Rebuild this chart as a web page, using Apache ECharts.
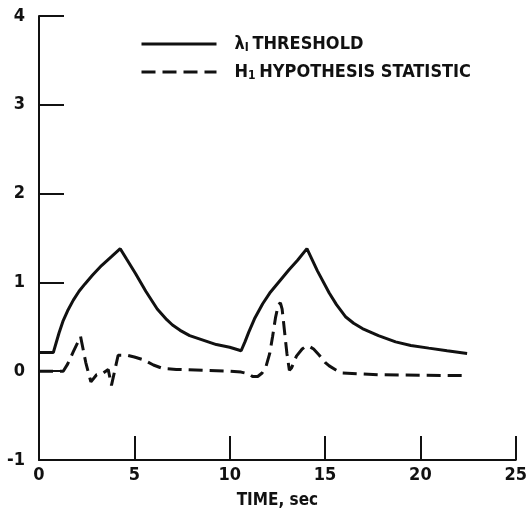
<!DOCTYPE html>
<html>
<head>
<meta charset="utf-8">
<script src="https://cdn.jsdelivr.net/npm/echarts@6/dist/echarts.min.js"></script>
<style>
  html, body { margin: 0; padding: 0; background: #fff; }
  #chart { width: 530px; height: 515px; }
</style>
</head>
<body>
<div id="chart"></div>
<script>
// time (sec), value pairs
const thresholdData = [
  [0, 0.21], [0.75, 0.21], [0.9, 0.32], [1.05, 0.43], [1.27, 0.57], [1.5, 0.68],
  [1.8, 0.80], [2.1, 0.90], [2.4, 0.98], [2.8, 1.08], [3.28, 1.19], [3.8, 1.29],
  [4.26, 1.38], [4.6, 1.26], [5.06, 1.10], [5.6, 0.90], [6.2, 0.70], [6.7, 0.58],
  [7.0, 0.52], [7.4, 0.46], [7.9, 0.40], [8.6, 0.35], [9.3, 0.30], [10.0, 0.27],
  [10.6, 0.23], [10.8, 0.33], [11.0, 0.44], [11.3, 0.59], [11.73, 0.76],
  [12.1, 0.88], [12.6, 1.01], [13.1, 1.14], [13.56, 1.25], [14.05, 1.38],
  [14.6, 1.13], [15.22, 0.88], [15.6, 0.75], [16.09, 0.61], [16.5, 0.54],
  [16.96, 0.48], [17.8, 0.40], [18.7, 0.33], [19.5, 0.29], [20.44, 0.26],
  [21.4, 0.23], [22.45, 0.20]
]
const statisticData = [
  [0, 0], [1.27, 0], [1.5, 0.08], [1.8, 0.22], [2.18, 0.39], [2.45, 0.10],
  [2.72, -0.12], [3.02, -0.04], [3.3, -0.03], [3.63, 0.02], [3.8, -0.16],
  [4.15, 0.18], [4.6, 0.18], [5.0, 0.16], [5.46, 0.13], [6.0, 0.07], [6.5, 0.03],
  [7.2, 0.02], [10.0, 0.0], [10.6, -0.01], [11.0, -0.03], [11.2, -0.06],
  [11.47, -0.06], [11.7, -0.02], [11.9, 0.05], [12.1, 0.20], [12.25, 0.39],
  [12.4, 0.60], [12.55, 0.75], [12.66, 0.77], [12.75, 0.70], [12.9, 0.40],
  [13.0, 0.20], [13.13, 0.01], [13.25, 0.04], [13.5, 0.17], [13.8, 0.25],
  [14.0, 0.28], [14.17, 0.28], [14.4, 0.25], [14.7, 0.18], [15.0, 0.10],
  [15.22, 0.06], [15.6, 0.01], [15.92, -0.02], [17.8, -0.04], [22.45, -0.05]
]
const seriesNames = ['threshold', 'statistic']

const font = '"DejaVu Sans Condensed", "Liberation Sans Narrow", "DejaVu Sans", sans-serif'
const ink = '#111'

const chart = echarts.init(document.getElementById('chart'))
chart.setOption({
  animation: false,
  textStyle: { fontFamily: font, color: ink, fontWeight: 'bold' },
  grid: { left: 39, right: 13, top: 16, bottom: 55 },
  legend: {
    orient: 'vertical',
    left: 135,
    top: 30,
    itemWidth: 75,
    itemHeight: 14,
    itemGap: 9,
    data: seriesNames,
    itemStyle: { opacity: 0 },
    lineStyle: { width: 3 },
    formatter: (name) => {
      if (name === 'threshold') return '{g|}{b|λ}{s|I} {b|THRESHOLD}'
      return '{g|}{b|H}{s|1} {b|HYPOTHESIS STATISTIC}'
    },
    textStyle: {
      color: ink,
      rich: {
        g: { width: 13 },
        b: { fontSize: 18, fontFamily: font, fontWeight: 'bold', color: ink },
        s: { fontSize: 12, fontFamily: font, fontWeight: 'bold', color: ink, verticalAlign: 'bottom', padding: [8, 0, 0, 0] }
      }
    }
  },
  xAxis: {
    type: 'value',
    min: 0,
    max: 25,
    interval: 5,
    name: 'TIME, sec',
    nameLocation: 'middle',
    nameGap: 32,
    nameTextStyle: { fontSize: 17, fontFamily: font, fontWeight: 'bold', color: ink },
    splitLine: { show: false },
    axisLine: { onZero: false, lineStyle: { color: ink, width: 2 } },
    axisTick: { inside: true, length: 24, lineStyle: { color: ink, width: 2 } },
    axisLabel: { fontSize: 18, fontWeight: 'bold', color: ink, margin: 6 }
  },
  yAxis: {
    type: 'value',
    min: -1,
    max: 4,
    interval: 1,
    splitLine: { show: false },
    axisLine: { show: true, onZero: false, lineStyle: { color: ink, width: 2 } },
    axisTick: { inside: true, length: 25, lineStyle: { color: ink, width: 2 } },
    axisLabel: { fontSize: 18, fontWeight: 'bold', color: ink, margin: 14 }
  },
  series: [
    {
      name: 'threshold',
      type: 'line',
      data: thresholdData,
      symbol: 'none',
      lineStyle: { color: ink, width: 3 },
      itemStyle: { color: ink }
    },
    {
      name: 'statistic',
      type: 'line',
      data: statisticData,
      symbol: 'none',
      lineStyle: { color: ink, width: 3, type: [14, 7] },
      itemStyle: { color: ink }
    }
  ]
})
</script>
</body>
</html>
